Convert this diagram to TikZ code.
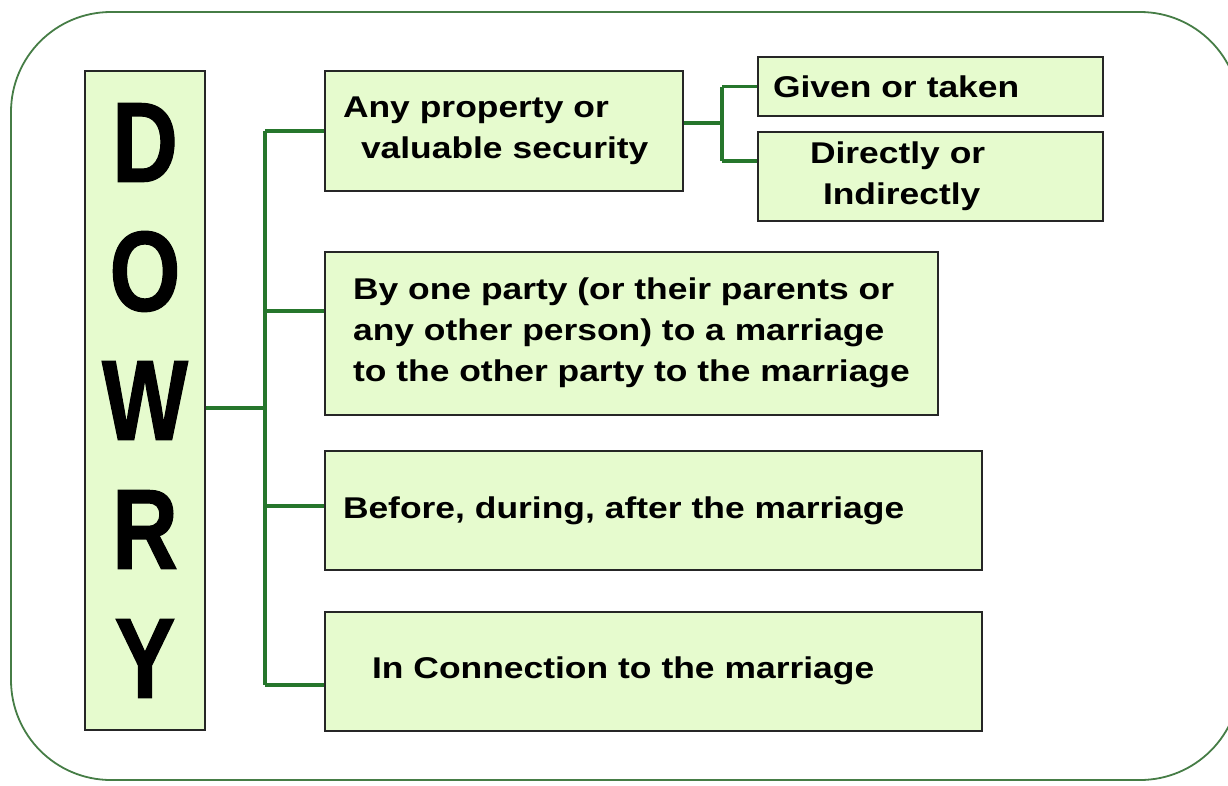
\documentclass[tikz,border=0pt]{standalone}
\usepackage{fontspec}
\setmainfont{Liberation Sans}
\newfontfamily\bodyfont[FakeStretch=1.18]{Liberation Sans}
\newfontfamily\tallfont[FakeStretch=0.8,FakeBold=1]{Liberation Sans}
\usepackage{xcolor}
\definecolor{boxfill}{RGB}{230,251,206}
\definecolor{linkgreen}{RGB}{38,118,44}
\definecolor{framegreen}{RGB}{70,125,70}
\tikzset{box/.style={draw=black!85, line width=2pt, fill=boxfill, inner sep=0, align=left, text=black, font=\bodyfont\bfseries\fontsize{30}{41}\selectfont}}
\tikzset{link/.style={draw=linkgreen, line width=3.5pt}}
\tikzset{frame/.style={draw=framegreen, line width=1.8pt, rounded corners=100pt}}

\begin{document}
\begin{tikzpicture}[x=1pt, y=-1pt]
    \useasboundingbox (0, 0) rectangle (1228, 785);
    \draw[frame] (11, 12) rectangle (1240, 780);

    \node[box, minimum width=120pt, minimum height=659pt, align=center, font=\tallfont\bfseries\fontsize{114}{129}\selectfont] at (145, 400.5) (dowry) {D\\O\\W\\R\\Y};

    \node[box, minimum width=358pt, minimum height=120pt, inner xsep=18pt, text width=322pt] at (504, 131) (prop) {Any property or\\\hspace*{18pt}valuable security};
    \node[box, minimum width=345pt, minimum height=59pt, inner xsep=15pt, text width=315pt] at (930.5, 86.5) (given) {Given or taken};
    \node[box, minimum width=345pt, minimum height=89pt, inner xsep=52pt, text width=241pt] at (930.5, 176.5) (direct) {Directly or\\\hspace*{13pt}Indirectly};

    \node[box, minimum width=613pt, minimum height=163pt] at (631.5, 333) (party) {By one party (or their parents or\\any other person) to a marriage\\to the other party to the marriage};
    \node[box, minimum width=657pt, minimum height=119pt, inner xsep=18pt, text width=621pt] at (653.5, 510.5) (time) {Before, during, after the marriage};
    \node[box, minimum width=657pt, minimum height=119pt, inner xsep=47pt, text width=563pt] at (653.5, 671) (conn) {In Connection to the marriage};

    \coordinate (trunk) at (265, 408);
    \coordinate (party-in) at ([yshift=22pt]party.west);
    \coordinate (time-in) at ([yshift=4.5pt]time.west);
    \coordinate (conn-in) at ([yshift=-14pt]conn.west);
    \draw[link] ([yshift=-7.5pt]dowry.east) -- (trunk);
    \draw[link] (trunk |- prop.west) -- (trunk |- conn-in);
    \draw[link] (trunk |- prop.west) -- (prop.west);
    \draw[link] (trunk |- party-in) -- (party-in);
    \draw[link] (trunk |- time-in) -- (time-in);
    \draw[link] (trunk |- conn-in) -- (conn-in);

    \coordinate (prop-out) at ([yshift=8pt]prop.east);
    \coordinate (fork) at ([xshift=38pt]prop-out);
    \coordinate (direct-in) at ([yshift=15.5pt]direct.west);
    \draw[link] (prop-out) -- (fork);
    \draw[link] (fork |- given.west) -- (fork |- direct-in);
    \draw[link] (fork |- given.west) -- (given.west);
    \draw[link] (fork |- direct-in) -- (direct-in);
\end{tikzpicture}
\end{document}
